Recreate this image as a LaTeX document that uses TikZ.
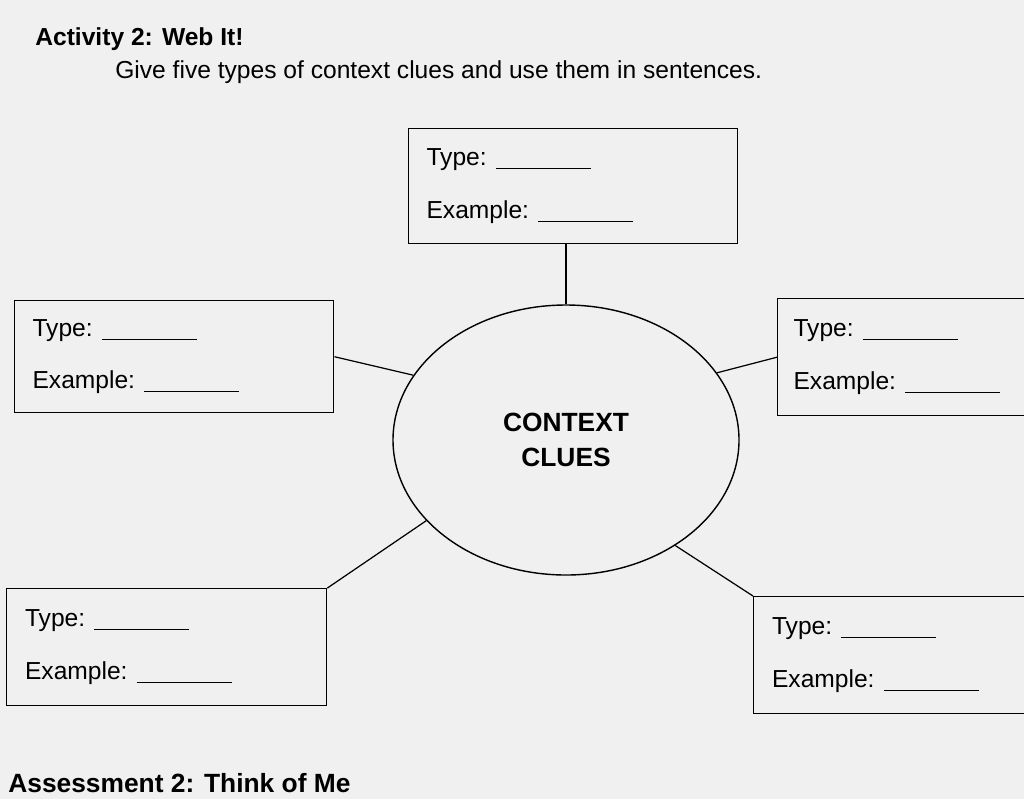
\documentclass[tikz,border=0pt]{standalone}
\usepackage{fontspec}
\setmainfont{Liberation Sans}
\usetikzlibrary{shapes.geometric}
\begin{document}
\begin{tikzpicture}[x=0.02cm,y=-0.02cm,
  box/.style={draw,line width=0.8pt,anchor=north west,align=left,inner sep=0pt,font=\fontsize{14}{16}\selectfont},
  conn/.style={line width=0.7pt}]
\fill[gray!12] (0,0) rectangle (1024,799);
\useasboundingbox (0,0) rectangle (1024,799);
\newcommand{\blank}[1]{\rule[-2pt]{#1}{0.7pt}}
\newcommand{\boxtext}[3]{\parbox[c][#3][c]{#2}{\hspace*{9pt}\fontsize{14}{16}\selectfont Type: \blank{#1}\\[14pt]\hspace*{9pt}Example: \blank{#1}}}
\node[anchor=base west,inner sep=0pt,font=\bfseries\fontsize{14}{16}\selectfont] (t1) at (35,45) {Activity 2: Web It!};
\node[anchor=base west,inner sep=0pt,font=\fontsize{14}{16}\selectfont] (t2) at (115,78) {Give five types of context clues and use them in sentences.};
\node[draw,ellipse,line width=0.8pt,minimum width=346*0.02cm,minimum height=270*0.02cm,align=center,font=\bfseries\fontsize{15}{20}\selectfont] (c) at (566,440) {CONTEXT\\CLUES};
\node[box,minimum width=329*0.02cm,minimum height=115*0.02cm] (tb) at (408,128) {\boxtext{1.9cm}{6.5cm}{2.3cm}};
\node[box,minimum width=319*0.02cm,minimum height=112*0.02cm] (lb) at (14,300) {\boxtext{1.9cm}{6.3cm}{2.2cm}};
\node[box,minimum width=260*0.02cm,minimum height=117*0.02cm] (rb) at (777,298) {\boxtext{1.9cm}{5.2cm}{2.3cm}};
\node[box,minimum width=320*0.02cm,minimum height=117*0.02cm] (blb) at (6,588) {\boxtext{1.9cm}{6.3cm}{2.3cm}};
\node[box,minimum width=280*0.02cm,minimum height=117*0.02cm] (brb) at (753,596) {\boxtext{1.9cm}{5.5cm}{2.3cm}};
\draw[conn] (c.north) -- (c.north |- tb.south);
\draw[conn] (lb.east) -- (c.157);
\draw[conn] (rb.west) -- (c.24);
\draw[conn] (blb.north east) -- (c.210);
\draw[conn] (brb.north west) -- (c.-44);
\node[anchor=base west,inner sep=0pt,font=\bfseries\fontsize{15}{17}\selectfont] (t3) at (8,792) {Assessment 2: Think of Me};
\end{tikzpicture}
\end{document}
